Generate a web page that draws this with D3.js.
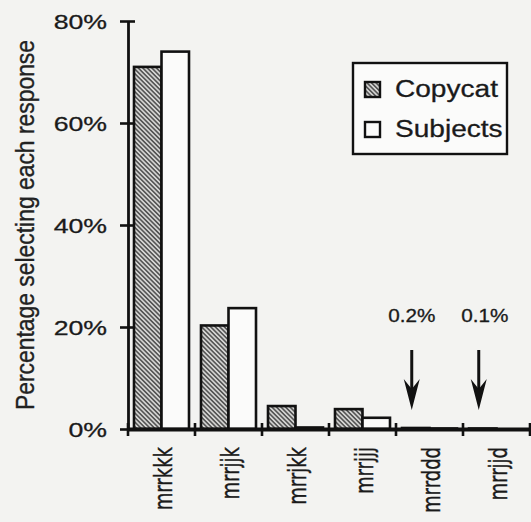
<!DOCTYPE html>
<html>
<head>
<meta charset="utf-8">
<script src="https://cdn.jsdelivr.net/npm/d3@7"></script>
<style>
  html, body { margin: 0; padding: 0; background: #f3f3f1; }
  svg { display: block; }
  text { stroke: #1a1a1a; stroke-width: 0.3px; }
</style>
</head>
<body>
<div id="chart"></div>
<script>
const categories = ["mrrkkk", "mrrjjk", "mrrjkk", "mrrjjj", "mrrddd", "mrrjjd"];
const series = ["Copycat", "Subjects"];
const copycatValues = [71, 20.3, 4.5, 3.9, 0.2, 0.1];
const subjectValues = [74, 23.7, 0.3, 2.2, 0.1, 0];
const yTicks = [0, 20, 40, 60, 80];
const notes = [
    { cat: "mrrddd", label: "0.2%" },
    { cat: "mrrjjd", label: "0.1%" }
];

const width = 531, height = 522;
const ink = "#111";

const svg = d3.select("#chart").append("svg")
    .attr("width", width)
    .attr("height", height);

// hatch for the copycat bars
svg.append("defs").append("pattern")
    .attr("id", "hatch")
    .attr("patternUnits", "userSpaceOnUse")
    .attr("width", 3.2)
    .attr("height", 3.2)
    .attr("patternTransform", "rotate(-45)")
    .call(p => {
        p.append("rect").attr("width", 3.2).attr("height", 3.2).attr("fill", "#d4d4d2");
        p.append("line").attr("x1", 0.8).attr("y1", 0).attr("x2", 0.8).attr("y2", 3.2)
            .attr("stroke", "#444").attr("stroke-width", 1.4);
    });

const x0 = d3.scaleBand().domain(categories).range([128, 530]).padding(0);
const x1 = d3.scaleBand().domain(series).range([6, 61]).padding(0);
const y = d3.scaleLinear().domain([0, 80]).range([429, 21]);

const rows = categories.map((c, i) => ({
    cat: c,
    vals: [
        { key: "Copycat", value: copycatValues[i] },
        { key: "Subjects", value: subjectValues[i] }
    ]
}));

// the scan is wider than tall, so stretch horizontal text
function stretch(sel, k) {
    sel.each(function () {
        const len = this.getComputedTextLength();
        d3.select(this).attr("textLength", len * k).attr("lengthAdjust", "spacingAndGlyphs");
    });
}

// bars
const groups = svg.append("g").selectAll("g")
    .data(rows)
    .enter().append("g")
    .attr("transform", d => `translate(${x0(d.cat)},0)`);

groups.selectAll("rect")
    .data(d => d.vals)
    .enter().append("rect")
    .attr("x", d => x1(d.key))
    .attr("y", d => y(d.value))
    .attr("width", x1.bandwidth())
    .attr("height", d => y(0) - y(d.value))
    .attr("fill", d => d.key === "Copycat" ? "url(#hatch)" : "#fbfbfa")
    .attr("stroke", ink)
    .attr("stroke-width", 2.6);

// y axis
const yAxis = svg.append("g")
    .attr("transform", "translate(128,0)")
    .call(d3.axisLeft(y).tickValues(yTicks).tickFormat(d => d + "%").tickSizeInner(8).tickSizeOuter(0));
yAxis.select(".domain").attr("stroke", ink).attr("stroke-width", 2.8);
yAxis.selectAll(".tick line").attr("stroke", ink).attr("stroke-width", 2.6).attr("x1", -8).attr("x2", 7);
yAxis.selectAll(".tick text")
    .attr("x", -21)
    .attr("dy", "0.36em")
    .style("font-family", "'Liberation Sans', Arial, sans-serif")
    .style("font-size", "21px")
    .attr("fill", "#1a1a1a")
    .call(stretch, 1.27);

// x axis baseline and category dividers
svg.append("line")
    .attr("x1", 128).attr("x2", 530)
    .attr("y1", y(0) + 0.5).attr("y2", y(0) + 0.5)
    .attr("stroke", ink).attr("stroke-width", 3.8);

const dividers = categories.map(c => x0(c)).concat([x0.range()[1]]);
svg.append("g").selectAll("line")
    .data(dividers)
    .enter().append("line")
    .attr("x1", d => d).attr("x2", d => d)
    .attr("y1", y(0) - 6).attr("y2", y(0) + 7)
    .attr("stroke", ink).attr("stroke-width", 2.6);

// category labels
svg.append("g").selectAll("text")
    .data(categories)
    .enter().append("text")
    .attr("transform", d => `translate(${x0(d) + x0.bandwidth() / 2 + 10},447) scale(1.38,1) rotate(-90)`)
    .attr("text-anchor", "end")
    .style("font-family", "'DejaVu Sans', sans-serif")
    .style("font-size", "18px")
    .attr("fill", "#1a1a1a")
    .text(d => d);

// y label
svg.append("text")
    .attr("transform", "translate(34,225) scale(1.15,1) rotate(-90)")
    .attr("text-anchor", "middle")
    .style("font-family", "'Liberation Sans', Arial, sans-serif")
    .style("font-size", "22px")
    .attr("fill", "#222")
    .attr("textLength", 370)
    .attr("lengthAdjust", "spacingAndGlyphs")
    .text("Percentage selecting each response");

// arrows to the tiny values
const noteG = svg.append("g").selectAll("g")
    .data(notes)
    .enter().append("g")
    .attr("transform", d => `translate(${x0(d.cat) + x1("Copycat") + x1.bandwidth() / 2 - 4},0)`);

noteG.append("line")
    .attr("x1", 0).attr("x2", 0)
    .attr("y1", y(0) - 79).attr("y2", y(0) - 30)
    .attr("stroke", ink).attr("stroke-width", 3);
noteG.append("path")
    .attr("d", `M-8,${y(0) - 50} L0,${y(0) - 19} L8,${y(0) - 50} L0,${y(0) - 40} Z`)
    .attr("fill", ink);
noteG.append("text")
    .attr("x", (d, i) => i === 0 ? 0 : 6)
    .attr("y", y(0) - 107)
    .attr("text-anchor", "middle")
    .style("font-family", "'Liberation Sans', Arial, sans-serif")
    .style("font-size", "18px")
    .attr("fill", "#1a1a1a")
    .text(d => d.label)
    .call(stretch, 1.15);

// legend
const legend = svg.append("g");
legend.append("rect")
    .attr("x", 353).attr("y", 63)
    .attr("width", 154).attr("height", 91)
    .attr("fill", "#fbfbfa")
    .attr("stroke", ink).attr("stroke-width", 2.4);

const items = legend.selectAll("g")
    .data(series)
    .enter().append("g")
    .attr("transform", (d, i) => `translate(365,${82 + i * 40})`);
items.append("rect")
    .attr("width", 15).attr("height", 15)
    .attr("fill", d => d === "Copycat" ? "url(#hatch)" : "#fbfbfa")
    .attr("stroke", ink).attr("stroke-width", 2.4);
items.append("text")
    .attr("x", 30).attr("y", 15)
    .style("font-family", "'Liberation Sans', Arial, sans-serif")
    .style("font-size", "23px")
    .attr("fill", "#1a1a1a")
    .text(d => d)
    .call(stretch, 1.22);
</script>
</body>
</html>
